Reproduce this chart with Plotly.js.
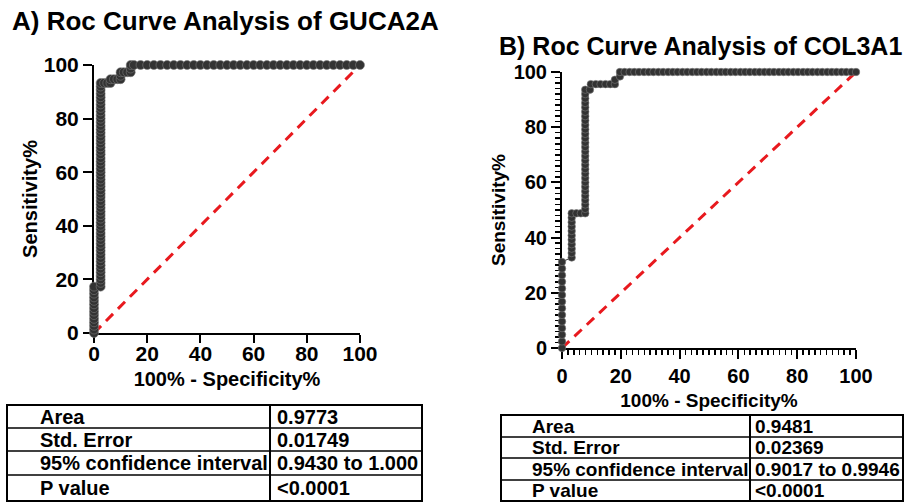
<!DOCTYPE html>
<html>
<head>
<meta charset="utf-8">
<script src="https://cdn.plot.ly/plotly-3.0.1.min.js"></script>
<style>
  html, body { margin: 0; padding: 0; background: #fff; }
  #chart { width: 917px; height: 502px; }
</style>
</head>
<body>
<div id="chart"></div>
<script>
// ROC curve for GUCA2A: 100% - specificity (x) vs sensitivity (y)
const gucaFpr = [
  0,0,0,0,0,0,0,0,0,0,0,0,0,0,
  2.5,2.5,2.5,2.5,2.5,2.5,2.5,2.5,2.5,2.5,2.5,2.5,2.5,2.5,2.5,2.5,2.5,2.5,2.5,2.5,
  2.5,2.5,2.5,2.5,2.5,2.5,2.5,2.5,2.5,2.5,2.5,2.5,2.5,2.5,2.5,2.5,2.5,2.5,2.5,2.5,
  2.5,2.5,2.5,2.5,2.5,2.5,2.5,2.5,2.5,2.5,2.5,2.5,2.5,2.5,2.5,2.5,2.5,2.5,
  3.8,5,6.2,6.2,7.5,8.8,10,10,10,11.2,12.5,13.8,13.8,13.8,
  15,17.5,20,22.5,25,27.5,30,32.5,35,37.5,40,42.5,45,47.5,50,52.5,55,57.5,60,62.5,
  65,67.5,70,72.5,75,77.5,80,82.5,85,87.5,90,92.5,95,97.5,100
];
const gucaSens = [
  0,1.3,2.7,4,5.3,6.7,8,9.3,10.7,12,13.3,14.7,16,17.3,
  17.3,18.7,20,21.3,22.7,24,25.3,26.7,28,29.3,30.7,32,33.3,34.7,36,37.3,38.7,40,41.3,42.7,
  44,45.3,46.7,48,49.3,50.7,52,53.3,54.7,56,57.3,58.7,60,61.3,62.7,64,65.3,66.7,68,69.3,
  70.7,72,73.3,74.7,76,77.3,78.7,80,81.3,82.7,84,85.3,86.7,88,89.3,90.7,92,93.3,
  93.3,93.3,93.3,94.7,94.7,94.7,94.7,96,97.3,97.3,97.3,97.3,98.7,100,
  100,100,100,100,100,100,100,100,100,100,100,100,100,100,100,100,100,100,100,100,
  100,100,100,100,100,100,100,100,100,100,100,100,100,100,100
];

// ROC curve for COL3A1
const col3Fpr = [
  0,0,0,0,0,0,0,0,0,0,0,0,0,0,
  3.3,3.3,3.3,3.3,3.3,3.3,3.3,3.3,3.3,3.3,3.3,
  4.9,6.4,7.9,
  7.9,7.9,7.9,7.9,7.9,7.9,7.9,7.9,7.9,7.9,7.9,7.9,7.9,7.9,7.9,7.9,7.9,7.9,7.9,7.9,
  7.9,7.9,7.9,7.9,7.9,7.9,7.9,7.9,
  9.5,9.8,11.5,13.1,14.8,16.4,18,18,19.7,
  19.7,21.3,23,24.6,26.2,27.9,29.5,31.1,32.8,34.4,36.1,37.7,39.3,41,42.6,44.3,45.9,47.5,
  49.2,50.8,52.5,54.1,55.7,57.4,59,60.7,62.3,63.9,65.6,67.2,68.9,70.5,72.1,73.8,75.4,77,
  78.7,80.3,82,83.6,85.2,86.9,88.5,90.2,91.8,93.4,95.1,96.7,98.4,100
];
const col3Sens = [
  0,2.4,4.8,7.2,9.6,12,14.4,16.8,19.2,21.6,24,26.4,28.8,31.2,
  32.8,34.4,36,37.6,39.2,40.8,42.4,44,45.6,47.2,48.8,
  48.8,48.8,48.8,
  50.4,52,53.6,55.2,56.8,58.4,60,61.6,63.2,64.8,66.4,68,69.6,71.2,72.8,74.4,76,77.6,79.2,80.8,
  82.4,84,85.6,87.2,88.8,90.4,92,93.6,
  93.6,95.6,95.6,95.6,95.6,95.6,95.6,97.2,98.4,
  100,100,100,100,100,100,100,100,100,100,100,100,100,100,100,100,100,100,
  100,100,100,100,100,100,100,100,100,100,100,100,100,100,100,100,100,100,
  100,100,100,100,100,100,100,100,100,100,100,100,100,100
];

// line of no discrimination
const chanceX = [0, 100];
const chanceY = [0, 100];

// axis ticks
const majorTicks = [0, 20, 40, 60, 80, 100];

// titles and summary tables
const panelTitles = ['A) Roc Curve Analysis of GUCA2A', 'B) Roc Curve Analysis of COL3A1'];
const xTitle = '100% - Specificity%';
const yTitle = 'Sensitivity%';
const statLabels = ['Area', 'Std. Error', '95% confidence interval', 'P value'];
const gucaStats = ['0.9773', '0.01749', '0.9430 to 1.000', '<0.0001'];
const col3Stats = ['0.9481', '0.02369', '0.9017 to 0.9946', '<0.0001'];

// ---- layout helpers (pixel -> paper) ----
const W = 917, H = 502;
const px = v => v / W;
const py = v => 1 - v / H;
const FONT = 'Liberation Sans, Arial, Helvetica, sans-serif';
const INK = '#000000';
const DOT = '#333333';

function rocTrace(x, y, xa, ya, size) {
  return {
    type: 'scatter', mode: 'lines+markers', x: x, y: y, xaxis: xa, yaxis: ya,
    line: { color: DOT, width: 1 },
    marker: { symbol: 'circle', size: size, color: DOT, line: { color: '#7a7a7a', width: 0.6 } },
    cliponaxis: false, showlegend: false, hoverinfo: 'x+y'
  };
}
function chanceTrace(xa, ya) {
  return {
    type: 'scatter', mode: 'lines', x: chanceX, y: chanceY, xaxis: xa, yaxis: ya,
    line: { color: '#e8191e', width: 3, dash: '10px,7px' },
    cliponaxis: false, showlegend: false, hoverinfo: 'skip'
  };
}

const data = [
  chanceTrace('x', 'y'),
  rocTrace(gucaFpr, gucaSens, 'x', 'y', 9),
  chanceTrace('x2', 'y2'),
  rocTrace(col3Fpr, col3Sens, 'x2', 'y2', 7.5)
];

function axis(o) {
  const a = {
    domain: o.domain, anchor: o.anchor, range: [0, 100], autorange: false,
    tickmode: 'array', tickvals: majorTicks, ticktext: majorTicks.map(String),
    ticks: 'outside', ticklen: o.ticklen, tickwidth: 2, tickcolor: INK,
    ticklabelstandoff: o.labelShift || 0,
    showline: true, linewidth: 2, linecolor: INK, mirror: false,
    showgrid: false, zeroline: false, layer: 'below traces',
    tickfont: { family: FONT, size: o.size, color: INK, weight: 'bold' },
    title: { text: o.title, standoff: o.standoff,
             font: { family: FONT, size: o.size - 1, color: INK, weight: 'bold' } },
    fixedrange: true
  };
  if (o.minor) a.minor = { ticks: 'outside', ticklen: 5, tickwidth: 1.5, tickcolor: INK, dtick: 2, tick0: 0, showgrid: false };
  return a;
}

const layout = {
  width: W, height: H,
  margin: { l: 0, r: 0, t: 0, b: 0 },
  paper_bgcolor: '#ffffff', plot_bgcolor: '#ffffff',
  showlegend: false,
  xaxis:  axis({ domain: [px(94), px(360)], anchor: 'y', size: 21, title: xTitle, standoff: 8, ticklen: 8, labelShift: -7 }),
  yaxis:  axis({ domain: [py(333), py(65)], anchor: 'x', size: 21, title: yTitle, standoff: 1, ticklen: 9 }),
  xaxis2: axis({ domain: [px(562), px(856)], anchor: 'y2', size: 20, title: xTitle, standoff: 8, ticklen: 9, minor: true }),
  yaxis2: axis({ domain: [py(348), py(72)], anchor: 'x2', size: 20, title: yTitle, standoff: 3, ticklen: 9, minor: true }),
  shapes: [],
  annotations: []
};

// panel titles
[[10, 21, 26], [497, 46, 25]].forEach((p, i) => {
  layout.annotations.push({
    xref: 'paper', yref: 'paper', x: px(p[0]), y: py(p[1]),
    xanchor: 'left', yanchor: 'middle', showarrow: false,
    text: panelTitles[i],
    font: { family: FONT, size: p[2], color: INK, weight: 'bold' }
  });
});

// summary tables under each panel
function addTable(t, values) {
  const line = { color: INK, width: 2 };
  layout.shapes.push({ type: 'rect', xref: 'paper', yref: 'paper',
    x0: px(t.x0), x1: px(t.x1), y0: py(t.rows[0]), y1: py(t.rows[t.rows.length - 1]),
    line: line, fillcolor: 'rgba(0,0,0,0)' });
  layout.shapes.push({ type: 'line', xref: 'paper', yref: 'paper',
    x0: px(t.xd), x1: px(t.xd), y0: py(t.rows[0]), y1: py(t.rows[t.rows.length - 1]), line: line });
  for (let r = 1; r < t.rows.length - 1; r++) {
    layout.shapes.push({ type: 'line', xref: 'paper', yref: 'paper',
      x0: px(t.x0), x1: px(t.x1), y0: py(t.rows[r]), y1: py(t.rows[r]),
      line: { color: INK, width: 1.5 } });
  }
  statLabels.forEach((lab, r) => {
    const yc = (t.rows[r] + t.rows[r + 1]) / 2 + t.dy;
    [[t.labelX, lab], [t.valueX, values[r]]].forEach(c => {
      layout.annotations.push({
        xref: 'paper', yref: 'paper', x: px(c[0]), y: py(yc),
        xanchor: 'left', yanchor: 'middle', showarrow: false, text: c[1],
        font: { family: FONT, size: t.font, color: INK, weight: 'bold' }
      });
    });
  });
}
addTable({ x0: 7, x1: 422, xd: 270, rows: [405, 428, 451, 475, 501], labelX: 38, valueX: 275, font: 20, dy: 0 }, gucaStats);
addTable({ x0: 501, x1: 903, xd: 750, rows: [415, 437, 458, 480, 501], labelX: 530, valueX: 753, font: 19, dy: 0 }, col3Stats);

Plotly.newPlot('chart', data, layout, { staticPlot: true, displayModeBar: false });
</script>
</body>
</html>
